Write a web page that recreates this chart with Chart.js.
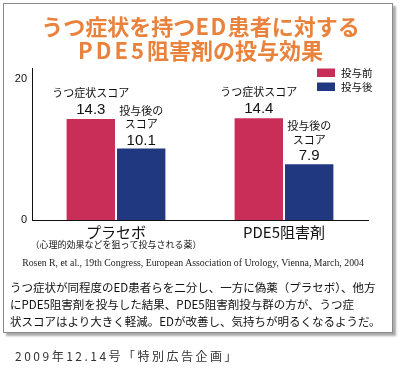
<!DOCTYPE html>
<html><head><meta charset="utf-8">
<script src="https://cdn.jsdelivr.net/npm/chart.js@4"></script>
<style>
html,body{margin:0;padding:0;background:#fff;}
body{width:401px;height:380px;position:relative;overflow:hidden;font-family:"Noto Sans CJK JP","Noto Sans",sans-serif;}
#box{position:absolute;left:3px;top:3px;width:388px;height:328px;border:1px solid #8a8a8a;box-shadow:3px 3px 2px #aaa;background:#fff;}
#title{position:absolute;left:0;top:13px;width:401px;text-align:center;color:#E8823C;font-weight:700;font-size:22px;line-height:24px;}
#title .w1{letter-spacing:1.5px;}
#title .w2{letter-spacing:3px;}
#cv{position:absolute;left:0;top:0;}
#cite{position:absolute;left:0;top:256px;width:386px;text-align:center;font-family:"Liberation Serif",serif;font-size:9.8px;line-height:14px;color:#222;white-space:nowrap;}
#caption{position:absolute;left:10px;top:279px;font-size:11.5px;line-height:17px;color:#111;white-space:nowrap;}
#footer{position:absolute;left:15px;top:347px;font-size:12px;line-height:18px;letter-spacing:2.5px;color:#333;white-space:nowrap;}
</style></head>
<body>
<div id="box"></div>
<canvas id="cv" width="401" height="380"></canvas>
<div id="title">うつ症状を持つ<span class="w1">ED</span>患者に対する<br><span class="w2">PDE5</span>阻害剤の投与効果</div>
<div id="cite">Rosen R, et al., 19th Congress, European Association of Urology, Vienna, March, 2004</div>
<div id="caption">うつ症状が同程度のED患者らを二分し、一方に偽薬（プラセボ）、他方<br>にPDE5阻害剤を投与した結果、PDE5阻害剤投与群の方が、うつ症<br>状スコアはより大きく軽減。EDが改善し、気持ちが明るくなるようだ。</div>
<div id="footer">2009年12.14号「特別広告企画」</div>
<script>
const categories = ['プラセボ', 'PDE5阻害剤'];
const categoryNotes = ['（心理的効果などを狙って投与される薬）', ''];
const seriesLabels = ['投与前', '投与後'];
const beforeValues = [14.3, 14.4];
const afterValues = [10.1, 7.9];
const yTicks = [0, 20];
const barNotes = [['うつ症状スコア'], ['投与後の', 'スコア']];

const RED = '#C82E58';
const BLUE = '#1F3880';
const JP = '"Noto Sans CJK JP", sans-serif';

const annot = {
  id: 'annot',
  afterDatasetsDraw(chart) {
    const ctx = chart.ctx;
    ctx.save();
    ctx.fillStyle = '#111';
    ctx.textAlign = 'center';
    ctx.textBaseline = 'middle';
    chart.data.datasets.forEach((ds, d) => {
      const meta = chart.getDatasetMeta(d);
      meta.data.forEach((bar, i) => {
        const v = ds.data[i];
        let y = bar.y - (d === 0 ? 9.5 : 8);
        ctx.font = '15px "Liberation Sans", Arial, sans-serif';
        ctx.fillText(v.toFixed(1), bar.x, y);
        ctx.font = '11px ' + JP;
        const lines = barNotes[d];
        y -= 16.5;
        for (let k = lines.length - 1; k >= 0; k--) {
          ctx.fillText(lines[k], bar.x, y);
          y -= 13.5;
        }
      });
    });
    const xs = chart.scales.x;
    ctx.font = '9px ' + JP;
    categoryNotes.forEach((n, i) => {
      if (n) ctx.fillText(n, xs.getPixelForValue(i), chart.chartArea.bottom + 24.5);
    });
    const ca = chart.chartArea;
    ctx.textAlign = 'left';
    ctx.font = '10.5px ' + JP;
    chart.data.datasets.forEach((ds, d) => {
      const ly = ca.top + 0.5 + d * 14;
      ctx.fillStyle = ds.backgroundColor;
      ctx.fillRect(ca.right - 51, ly, 18, 8.5);
      ctx.fillStyle = '#111';
      ctx.fillText(ds.label, ca.right - 27, ly + 4.5);
    });
    ctx.restore();
  }
};

new Chart(document.getElementById('cv'), {
  type: 'bar',
  data: {
    labels: categories,
    datasets: [
      { label: seriesLabels[0], data: beforeValues, backgroundColor: RED },
      { label: seriesLabels[1], data: afterValues, backgroundColor: BLUE }
    ]
  },
  options: {
    responsive: false,
    animation: false,
    devicePixelRatio: 1,
    layout: { padding: { left: 0, top: 68, right: 33, bottom: 130 } },
    plugins: { legend: { display: false }, tooltip: { enabled: false } },
    datasets: { bar: { categoryPercentage: 0.6, barPercentage: 0.96 } },
    scales: {
      x: {
        grid: { display: false, drawTicks: false },
        border: { display: true, color: '#111', width: 1 },
        ticks: { color: '#111', padding: 3, font: { family: JP, size: 15 } },
        afterFit: s => { s.height = 30; }
      },
      y: {
        min: 0, max: 21.5,
        grid: { display: false, drawTicks: false },
        border: { display: true, color: '#111', width: 1 },
        ticks: { color: '#111', padding: 5, font: { family: '"Liberation Sans", Arial, sans-serif', size: 11 } },
        afterBuildTicks: a => { a.ticks = yTicks.map(v => ({ value: v })); },
        afterFit: s => { s.width = 32; }
      }
    }
  },
  plugins: [annot]
});
</script>
</body></html>
